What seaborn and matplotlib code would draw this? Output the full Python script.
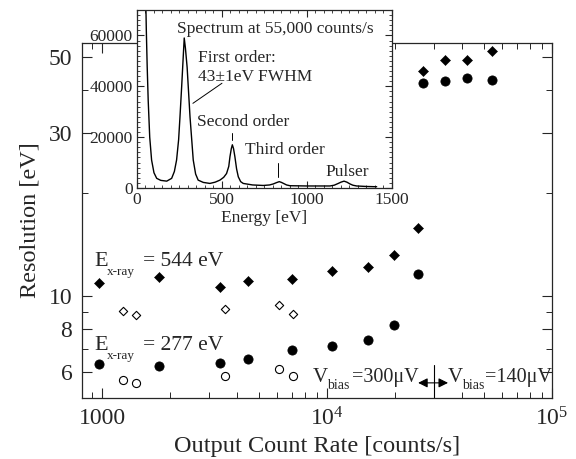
import numpy as np
import pandas as pd
import matplotlib
matplotlib.use("Agg")
import matplotlib.pyplot as plt
from matplotlib.ticker import FixedLocator, NullFormatter, MultipleLocator, LogLocator
import seaborn as sns

## data
rate_filled = [970, 1786, 3343, 4467, 6987, 10491, 15170, 19770, 25300, 26800, 33400, 41800, 53900]
res_544_filled = [10.9, 11.4, 10.6, 11.1, 11.2, 11.8, 12.2, 13.2, 15.8, 45.5, 49.0, 49.0, 52.1]
res_277_filled = [6.31, 6.24, 6.38, 6.53, 6.95, 7.14, 7.43, 8.22, 11.6, 41.9, 42.5, 43.4, 42.9]

rate_open = [1245, 1413, 3532, 6143, 7049]
res_544_open = [9.06, 8.78, 9.16, 9.39, 8.84]
res_277_open = [5.68, 5.58, 5.84, 6.11, 5.84]

energy = [50, 55, 60, 66, 75, 86, 100, 116, 140, 175, 204, 220, 233, 245, 253, 263, 272, 278,
          285, 295, 312, 331, 345, 360, 390, 429, 460, 488, 510, 527, 540, 547, 555, 561, 568,
          576, 586, 596, 610, 625, 680, 743, 780, 802, 820, 837, 850, 862, 880, 900, 1000, 1135,
          1160, 1184, 1200, 1218, 1235, 1253, 1270, 1292, 1350, 1410]
counts = [80000, 62000, 48000, 34500, 20000, 11000, 6000, 3800, 3000, 2700, 3800, 6500, 11000,
          19000, 28000, 40000, 51500, 59000, 55000, 47500, 28000, 11000, 5500, 3100, 2200, 1800,
          2300, 3100, 4200, 5700, 8500, 12300, 15500, 17000, 15500, 12300, 7500, 4400, 2500, 1800,
          1200, 1000, 1200, 1600, 2100, 2500, 2200, 1800, 1200, 900, 800, 800, 1100, 1800, 2300,
          2700, 2300, 1600, 1100, 800, 600, 500]

y_ticks = [6, 8, 10, 30, 50]
y_minor = [7, 9, 20, 40]
x_ticks = [1000, 1e4, 1e5]
x_labels = ["1000", r"$\mathregular{10^4}$", r"$\mathregular{10^5}$"]
bias_split = 30000

sns.set_style("ticks")
plt.rcParams["font.family"] = ["Liberation Serif", "DejaVu Serif"]
plt.rcParams["mathtext.fontset"] = "custom"
plt.rcParams["mathtext.rm"] = "Liberation Serif"

fig = plt.figure(figsize=(5.76, 4.59), dpi=100)
ax = fig.add_axes([0.1424, 0.1329, 0.816, 0.7734])

df_f = pd.DataFrame({"rate": rate_filled, "r544": res_544_filled, "r277": res_277_filled})
df_o = pd.DataFrame({"rate": rate_open, "r544": res_544_open, "r277": res_277_open})

sns.scatterplot(data=df_f, x="rate", y="r544", marker="D", s=26, color="k", edgecolor="k", ax=ax)
sns.scatterplot(data=df_f, x="rate", y="r277", marker="o", s=44, color="k", edgecolor="k", ax=ax)
sns.scatterplot(data=df_o, x="rate", y="r544", marker="D", s=18, facecolor="white",
                edgecolor="k", linewidth=0.8, ax=ax)
sns.scatterplot(data=df_o, x="rate", y="r277", marker="o", s=34, facecolor="white",
                edgecolor="k", linewidth=0.8, ax=ax)

ax.set_xscale("log")
ax.set_yscale("log")
ax.set_xlim(815, 1e5)
ax.set_ylim(5.03, 55)
ax.yaxis.set_major_locator(FixedLocator(y_ticks))
ax.yaxis.set_minor_locator(FixedLocator(y_minor))
ax.yaxis.set_major_formatter(matplotlib.ticker.FixedFormatter([str(t) for t in y_ticks]))
ax.yaxis.set_minor_formatter(NullFormatter())
ax.xaxis.set_major_locator(FixedLocator(x_ticks))
ax.xaxis.set_major_formatter(matplotlib.ticker.FixedFormatter(x_labels))
ax.xaxis.set_minor_locator(LogLocator(base=10, subs=np.arange(2, 10)))
ax.xaxis.set_minor_formatter(NullFormatter())
ax.tick_params(which="both", direction="in", top=True, right=True, labelsize=17)
ax.tick_params(which="major", length=7, width=0.8, pad=7)
ax.tick_params(which="minor", length=4, width=0.7)
for s in ax.spines.values():
    s.set_linewidth(0.9)
ax.set_xlabel("Output Count Rate [counts/s]", fontsize=17.5, labelpad=4)
ax.set_ylabel("Resolution [eV]", fontsize=17.5, labelpad=6)

# annotations
tr = ax.transAxes
ax.text(0.0255, 0.372, "E", fontsize=16, transform=tr)
ax.text(0.053, 0.346, "x-ray", fontsize=9.5, transform=tr)
ax.text(0.130, 0.372, "= 544 eV", fontsize=15.5, transform=tr)
ax.text(0.0255, 0.135, "E", fontsize=16, transform=tr)
ax.text(0.053, 0.110, "x-ray", fontsize=9.5, transform=tr)
ax.text(0.130, 0.135, "= 277 eV", fontsize=15.5, transform=tr)

ax.text(0.491, 0.045, "V", fontsize=15, transform=tr)
ax.text(0.521, 0.025, "bias", fontsize=10, transform=tr)
ax.text(0.574, 0.045, "=300\u03bcV", fontsize=14.5, transform=tr)
ax.text(0.779, 0.045, "V", fontsize=15, transform=tr)
ax.text(0.809, 0.025, "bias", fontsize=10, transform=tr)
ax.text(0.857, 0.045, "=140\u03bcV", fontsize=14.5, transform=tr)

ax.plot([bias_split, bias_split], [5.03, 6.3], color="k", lw=0.8)
ax.annotate("", xy=(34500, 5.57), xytext=(25400, 5.57),
            arrowprops=dict(arrowstyle="<|-|>", color="k", lw=0.8, shrinkA=0, shrinkB=0,
                            mutation_scale=14))

# inset spectrum
ins = fig.add_axes([0.2378, 0.5904, 0.4427, 0.3878])
ins.set_facecolor("white")
sns.lineplot(x=energy, y=counts, color="k", lw=1.0, ax=ins)
ins.set_xlim(0, 1500)
ins.set_ylim(0, 70000)
ins.xaxis.set_major_locator(MultipleLocator(500))
ins.xaxis.set_minor_locator(MultipleLocator(50))
ins.yaxis.set_major_locator(FixedLocator([0, 20000, 40000, 60000]))
ins.yaxis.set_minor_locator(MultipleLocator(2000))
ins.tick_params(which="both", direction="in", top=True, right=True, labelsize=12.5)
ins.tick_params(which="major", length=5, width=0.8, pad=3)
ins.tick_params(which="minor", length=2.5, width=0.6)
for s in ins.spines.values():
    s.set_linewidth(0.9)
ins.set_xlabel("Energy [eV]", fontsize=12.5, labelpad=1)

ins.text(235, 62700, "Spectrum at 55,000 counts/s", fontsize=12.5, va="center")
ins.text(359, 51000, "First order:", fontsize=12.5, va="center")
ins.text(359, 43500, "43\u00b11eV FWHM", fontsize=12.5, va="center")
ins.plot([500, 329], [41200, 33300], color="k", lw=0.7)
ins.text(353, 25900, "Second order", fontsize=12.5, va="center")
ins.plot([559, 559], [21600, 18800], color="k", lw=0.7)
ins.text(635, 14900, "Third order", fontsize=12.5, va="center")
ins.plot([829, 829], [9800, 4300], color="k", lw=0.7)
ins.text(1106, 6300, "Pulser", fontsize=12.5, va="center")

fig.savefig("out.png", dpi=100)
